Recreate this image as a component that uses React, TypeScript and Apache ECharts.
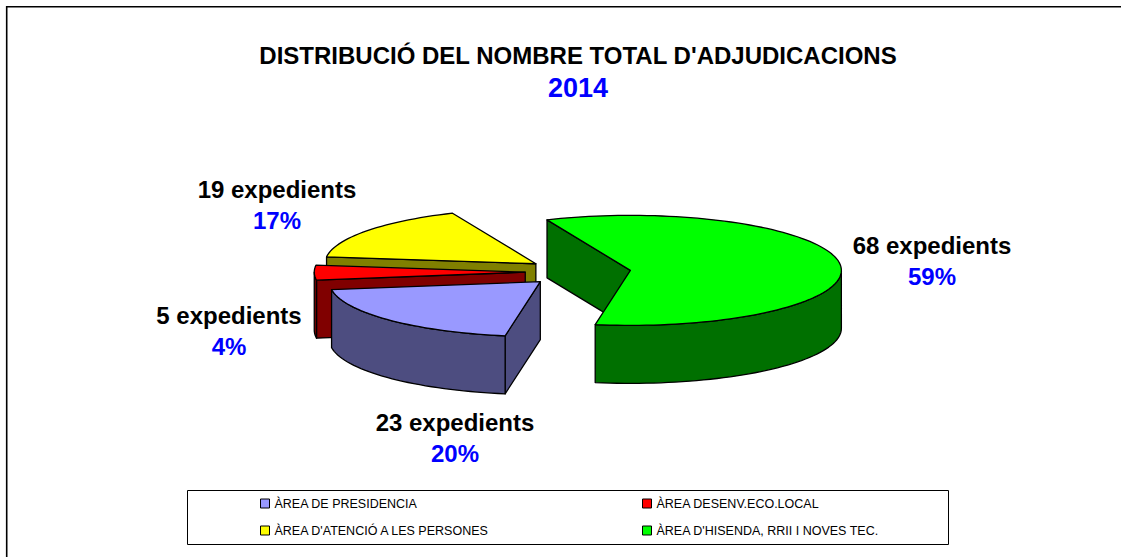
import React, { useEffect, useRef } from "react";
import * as echarts from "echarts";

const areas = ["ÀREA DE PRESIDENCIA", "ÀREA DESENV.ECO.LOCAL", "ÀREA D'ATENCIÓ A LES PERSONES", "ÀREA D'HISENDA, RRII I NOVES TEC."];
const expedients = [23, 5, 19, 68];
const percents = [20, 4, 17, 59];
const topColors = ["#9999FF", "#FF0000", "#FFFF00", "#00FF00"];
const sideColors = ["#4D4D80", "#800000", "#808000", "#007000"];
const stackOrder = [4, 3, 2, 1];
const labelPositions = [
  [455, 422],
  [229, 315],
  [277, 189],
  [932, 245],
];

const titleText = "DISTRIBUCIÓ DEL NOMBRE TOTAL D'ADJUDICACIONS";
const yearText = "2014";

const FIRST_ANGLE = 189.6;
const CX = 578;
const CY = 272;
const RX = 211;
const RY = 55;
const DEPTH = 58;
const EXPLODE = 0.25;
const FONT = '"Liberation Sans", Arial, sans-serif';

const total = expedients.reduce((a, b) => a + b, 0);
const rad = (d: number) => (d * Math.PI) / 180;

function arcPoints(c: number[], a0: number, a1: number, dy = 0) {
  const n = Math.max(2, Math.ceil(Math.abs(a1 - a0) / 2));
  const pts: number[][] = [];
  for (let i = 0; i <= n; i++) {
    const t = rad(a0 + ((a1 - a0) * i) / n);
    pts.push([c[0] + RX * Math.sin(t), c[1] - RY * Math.cos(t) + dy]);
  }
  return pts;
}

function polygon(points: number[][], fill: string) {
  return {
    type: "polygon",
    shape: { points },
    style: { fill, stroke: "#000", lineWidth: 1.3, lineJoin: "round" },
    silent: true,
  };
}

function sliceElement(index: number) {
  const before = expedients.slice(0, index).reduce((a, b) => a + b, 0);
  const a0 = FIRST_ANGLE + (before / total) * 360;
  const a1 = a0 + (expedients[index] / total) * 360;
  const mid = rad((a0 + a1) / 2);
  const c = [CX + EXPLODE * RX * Math.sin(mid), CY - EXPLODE * RY * Math.cos(mid)];
  const side = sideColors[index];
  const children: any[] = [];
  const cut = (a: number) => {
    const rim = arcPoints(c, a, a)[0];
    return polygon([c, rim, [rim[0], rim[1] + DEPTH], [c[0], c[1] + DEPTH]], side);
  };
  // Visible flat cut faces
  if (Math.sin(rad(a0)) < 0) children.push(cut(a0));
  if (Math.sin(rad(a1)) > 0) children.push(cut(a1));
  // Visible outer wall: the front half of the ellipse (90 to 270 degrees, repeated every 360)
  for (const k of [0, 360]) {
    const s = Math.max(a0, 90 + k);
    const e = Math.min(a1, 270 + k);
    if (s < e) {
      const upper = arcPoints(c, s, e);
      const lower = arcPoints(c, e, s, DEPTH);
      children.push(polygon([...upper, ...lower], side));
    }
  }
  children.push(polygon([c, ...arcPoints(c, a0, a1)], topColors[index]));
  return { type: "group", children };
}

export default function App() {
  const ref = useRef<HTMLDivElement>(null);
  useEffect(() => {
    const chart = echarts.init(ref.current!, undefined, { renderer: "svg" });
    const legendBase = {
      orient: "vertical",
      icon: "rect",
      itemWidth: 9,
      itemHeight: 9,
      itemGap: 14,
      padding: 0,
      textStyle: { fontFamily: FONT, fontSize: 12.5, color: "#000" },
      selectedMode: false,
    };
    const legendItem = (i: number) => ({
      name: areas[i],
      itemStyle: { color: topColors[i], borderColor: "#000", borderWidth: 1 },
    });
    chart.setOption({
      animation: false,
      backgroundColor: "#fff",
      title: {
        text: titleText,
        subtext: yearText,
        left: 573,
        top: 38,
        textAlign: "center",
        itemGap: 7,
        textStyle: { fontFamily: FONT, fontSize: 24, fontWeight: "bold", color: "#000" },
        subtextStyle: { fontFamily: FONT, fontSize: 27, fontWeight: "bold", color: "#0000FF" },
      },
      legend: [
        { ...legendBase, left: 260, top: 497, data: [legendItem(0), legendItem(2)] },
        { ...legendBase, left: 642, top: 497, data: [legendItem(1), legendItem(3)] },
      ],
      series: areas.map((name, i) => ({
        type: "custom",
        name,
        coordinateSystem: "none",
        silent: true,
        z: stackOrder[i],
        itemStyle: { color: topColors[i] },
        data: [expedients[i]],
        renderItem: () => sliceElement(i),
      })),
      graphic: [
        { type: "line", silent: true, shape: { x1: 6, y1: 6.7, x2: 1121, y2: 6.7 }, style: { stroke: "#000", lineWidth: 1.6 } },
        { type: "line", silent: true, shape: { x1: 6.7, y1: 6, x2: 6.7, y2: 557 }, style: { stroke: "#000", lineWidth: 1.6 } },
        { type: "rect", silent: true, z: -1, shape: { x: 187.5, y: 490.5, width: 761, height: 54 }, style: { fill: "#fff", stroke: "#000", lineWidth: 1 } },
        ...areas.flatMap((_, i) => [
          {
            type: "text",
            silent: true,
            x: labelPositions[i][0],
            y: labelPositions[i][1],
            style: { text: `${expedients[i]} expedients`, font: `bold 24px ${FONT}`, fill: "#000", align: "center", verticalAlign: "middle" },
          },
          {
            type: "text",
            silent: true,
            x: labelPositions[i][0],
            y: labelPositions[i][1] + 31,
            style: { text: `${percents[i]}%`, font: `bold 24px ${FONT}`, fill: "#0000FF", align: "center", verticalAlign: "middle" },
          },
        ]),
      ],
    });
    return () => chart.dispose();
  }, []);
  return <div ref={ref} style={{ position: "fixed", left: 0, top: 0, width: 1121, height: 557 }} />;
}
